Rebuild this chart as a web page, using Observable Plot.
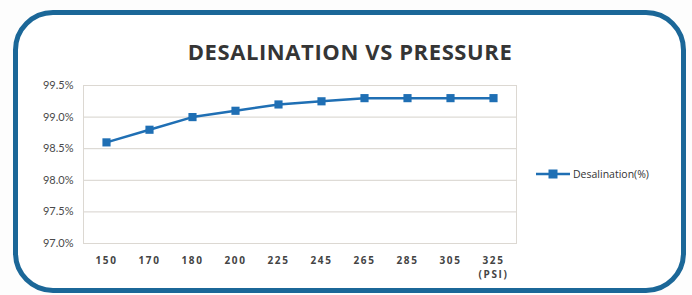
<!DOCTYPE html>
<html>
<head>
<meta charset="utf-8">
<script src="https://cdn.jsdelivr.net/npm/d3@7"></script>
<script src="https://cdn.jsdelivr.net/npm/@observablehq/plot@0.6"></script>
<style>
  html, body { margin: 0; padding: 0; background: #fdfdfd; }
  #wrap { position: relative; width: 692px; height: 295px; overflow: hidden; background: #fdfdfd; }
  #box { position: absolute; left: 13px; top: 10px; width: 673px; height: 283px; box-sizing: border-box;
         border: 5px solid #1b6798; border-radius: 40px; background: #ffffff; }
  #title { position: absolute; left: 0; width: 700px; top: 36px; text-align: center;
           font-family: "Open Sans", sans-serif; font-weight: 700; font-size: 22px; color: #353535; letter-spacing: 0.6px; }
  #chart { position: absolute; left: 0; top: 0; }
  #legend { position: absolute; left: 536px; top: 167px; display: flex; align-items: center;
            font-family: "Open Sans", sans-serif; font-size: 10.5px; color: #333; }
</style>
</head>
<body>
<div id="wrap">
  <div id="box"></div>
  <div id="title">DESALINATION VS PRESSURE</div>
  <div id="chart"></div>
  <div id="legend"></div>
</div>
<script>
const pressures = ["150", "170", "180", "200", "225", "245", "265", "285", "305", "325"];
const desalination = [98.6, 98.8, 99.0, 99.1, 99.2, 99.25, 99.3, 99.3, 99.3, 99.3];
const yTicks = [97.0, 97.5, 98.0, 98.5, 99.0, 99.5];
const seriesName = "Desalination(%)";
const unitLabel = "(PSI)";

const lineColor = "#1f6fb4";
const data = pressures.map((p, i) => ({pressure: p, value: desalination[i]}));

const chart = Plot.plot({
  width: 692,
  height: 295,
  marginLeft: 83,
  marginRight: 176,
  marginTop: 85,
  marginBottom: 52,
  style: {background: "transparent", overflow: "visible"},
  x: {type: "point", domain: pressures, padding: 0.5},
  y: {domain: [97.0, 99.5]},
  marks: [
    Plot.ruleY(yTicks, {stroke: "#d6d2cc", strokeWidth: 1}),
    Plot.frame({stroke: "#dcd8d2", strokeWidth: 1}),
    Plot.axisY({ticks: yTicks, tickSize: 0, tickPadding: 10, tickFormat: d => d.toFixed(1) + "%",
                fontSize: 11, fill: "#4a4a4a", fontFamily: "Lato, sans-serif", label: null}),
    Plot.axisX({tickSize: 0, tickPadding: 11, fontSize: 10, fontWeight: 700, fill: "#444", lineHeight: 1.35,
                fontFamily: "Open Sans, sans-serif", label: null,
                tickFormat: d => d === pressures[pressures.length - 1] ? d + "\n" + unitLabel : d}),
    Plot.line(data, {x: "pressure", y: "value", stroke: lineColor, strokeWidth: 2.5}),
    Plot.dot(data, {x: "pressure", y: "value", symbol: "square", r: 4.6, fill: lineColor, stroke: "none"})
  ]
});
chart.querySelectorAll("g[aria-label='x-axis tick label'] text").forEach(t => t.setAttribute("letter-spacing", "1.6"));
document.getElementById("chart").appendChild(chart);

const legend = document.getElementById("legend");
legend.innerHTML = `<svg width="34" height="12" style="margin-right:3px"><line x1="0" y1="6" x2="34" y2="6" stroke="${lineColor}" stroke-width="2.5"/><rect x="12.5" y="1.5" width="9" height="9" fill="${lineColor}"/></svg><span>${seriesName}</span>`;
</script>
</body>
</html>
